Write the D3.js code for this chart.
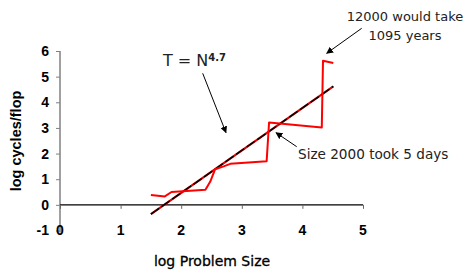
<!DOCTYPE html>
<html>
<head>
<meta charset="utf-8">
<script src="https://cdn.jsdelivr.net/npm/d3@7"></script>
<style>
  body { margin: 0; background: #fff; }
  svg { display: block; }
</style>
</head>
<body>
<div id="chart"></div>
<script>
// measured run: log problem size vs log cycles/flop
const logSize = [1.50, 1.73, 1.84, 2.40, 2.48, 2.56, 2.70, 2.81, 3.41, 3.45, 4.32, 4.34, 4.51]
const logCycles = [0.38, 0.33, 0.50, 0.59, 0.91, 1.39, 1.50, 1.60, 1.70, 3.21, 3.02, 5.62, 5.53]

// fitted trend T = N^4.7
const fitSize = [1.50, 4.51]
const fitCycles = [-0.36, 4.62]

const xTicks = [0, 1, 2, 3, 4, 5]
const yTicks = [-1, 0, 1, 2, 3, 4, 5, 6]

const width = 467
const height = 273

const svg = d3.select('#chart')
  .append('svg')
  .attr('width', width)
  .attr('height', height)

const x = d3.scaleLinear().domain([0, 5]).range([60, 363])
const y = d3.scaleLinear().domain([-1, 6]).range([230.5, 51])

const boldFont = 'Liberation Sans, Arial, sans-serif'
const textFont = 'DejaVu Sans, Verdana, sans-serif'

// y axis (gray) at x = 0
const yAxis = svg.append('g')
  .attr('transform', `translate(${x(0)},0)`)
  .call(d3.axisLeft(y).tickValues(yTicks).tickSize(4).tickPadding(7).tickFormat(d => String(d)))
yAxis.select('.domain').attr('stroke', '#808080').attr('stroke-width', 1.5)
  .attr('d', `M0,${y(6)}V${y(-1) + 2}`)
yAxis.selectAll('.tick line').attr('stroke', '#808080')
yAxis.selectAll('.tick text')
  .attr('font-family', boldFont).attr('font-weight', 'bold').attr('font-size', 14)
  .attr('fill', '#000')

// x axis line at y = 0, labels down at the bottom
const xAxis = svg.append('g')
  .attr('transform', `translate(0,${y(0)})`)
  .call(d3.axisBottom(x).tickValues(xTicks).tickSize(4).tickFormat(''))
xAxis.select('.domain').attr('stroke', '#000').attr('stroke-width', 1.2)
  .attr('d', `M${x(0)},0H${x(5)}`)
xAxis.selectAll('.tick line').attr('stroke', '#666')

svg.append('g')
  .selectAll('text')
  .data(xTicks)
  .join('text')
  .attr('x', d => x(d))
  .attr('y', 235)
  .attr('text-anchor', 'middle')
  .attr('font-family', boldFont)
  .attr('font-weight', 'bold')
  .attr('font-size', 14)
  .text(d => d)

// axis titles
svg.append('text')
  .attr('transform', `translate(21,141) rotate(-90)`)
  .attr('text-anchor', 'middle')
  .attr('font-family', boldFont)
  .attr('font-weight', 'bold')
  .attr('font-size', 14.5)
  .text('log cycles/flop')

svg.append('text')
  .attr('x', 212)
  .attr('y', 266)
  .attr('text-anchor', 'middle')
  .attr('font-family', textFont)
  .attr('font-size', 14)
  .attr('fill', '#000')
  .attr('stroke', '#000')
  .attr('stroke-width', 0.3)
  .text('log Problem Size')

const line = d3.line()
  .x(d => x(d[0]))
  .y(d => y(d[1]))

// trend line: red under, black dashed on top
const fit = d3.zip(fitSize, fitCycles)
svg.append('path')
  .attr('d', line(fit))
  .attr('fill', 'none')
  .attr('stroke', '#e00000')
  .attr('stroke-width', 2.2)
svg.append('path')
  .attr('d', line(fit))
  .attr('fill', 'none')
  .attr('stroke', '#000')
  .attr('stroke-width', 1.5)
  .attr('stroke-dasharray', '10,3')

// measured data
svg.append('path')
  .attr('d', line(d3.zip(logSize, logCycles)))
  .attr('fill', 'none')
  .attr('stroke', '#ff0000')
  .attr('stroke-width', 2)
  .attr('stroke-linejoin', 'round')

// annotations
svg.append('defs').append('marker')
  .attr('id', 'arrow')
  .attr('viewBox', '0 0 10 10')
  .attr('refX', 9)
  .attr('refY', 5)
  .attr('markerWidth', 7)
  .attr('markerHeight', 7)
  .attr('markerUnits', 'userSpaceOnUse')
  .attr('orient', 'auto')
  .append('path')
  .attr('d', 'M0,0L10,5L0,10z')
  .attr('fill', '#000')

const arrows = [
  [202.7, 73.3, 226, 132.7],
  [361.7, 28.3, 326.7, 53.3],
  [296.7, 146.7, 276, 132.7]
]
svg.append('g')
  .selectAll('line')
  .data(arrows)
  .join('line')
  .attr('x1', d => d[0]).attr('y1', d => d[1])
  .attr('x2', d => d[2]).attr('y2', d => d[3])
  .attr('stroke', '#000')
  .attr('stroke-width', 1)
  .attr('marker-end', 'url(#arrow)')

const eq = svg.append('text')
  .attr('x', 163)
  .attr('y', 66)
  .attr('font-family', textFont)
  .attr('font-size', 16)
  .attr('fill', '#222')
eq.append('tspan').text('T = N')
eq.append('tspan')
  .attr('dy', -5)
  .attr('font-size', 10)
  .attr('font-weight', 'bold')
  .text('4.7')

svg.append('text')
  .attr('x', 405)
  .attr('y', 21)
  .attr('text-anchor', 'middle')
  .attr('font-family', textFont)
  .attr('font-size', 13)
  .attr('fill', '#222')
  .text('12000 would take')
svg.append('text')
  .attr('x', 405)
  .attr('y', 40)
  .attr('text-anchor', 'middle')
  .attr('font-family', textFont)
  .attr('font-size', 13)
  .attr('fill', '#222')
  .text('1095 years')

svg.append('text')
  .attr('x', 298)
  .attr('y', 159)
  .attr('font-family', textFont)
  .attr('font-size', 13.6)
  .attr('fill', '#222')
  .text('Size 2000 took 5 days')
</script>
</body>
</html>
